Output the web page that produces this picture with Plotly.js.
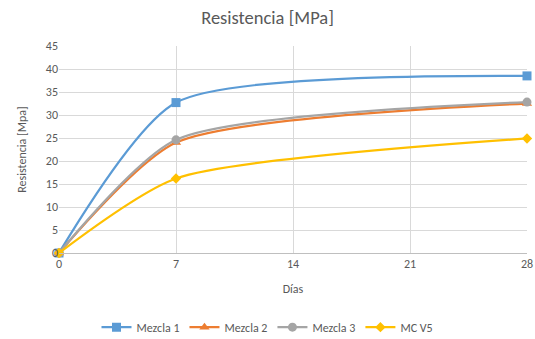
<!DOCTYPE html>
<html><head><meta charset="utf-8">
<script src="https://cdn.plot.ly/plotly-3.0.1.min.js"></script>
<style>html,body{margin:0;padding:0;background:#fff}#c{width:535px;height:339px}</style>
</head><body><div id="c"></div>
<script>
const dias = [0, 7, 28];
const mezcla1 = [0, 32.7, 38.5];
const mezcla2 = [0, 24.0, 32.5];
const mezcla3 = [0, 24.6, 32.8];
const mcv5 = [0, 16.2, 24.9];
const names = ["Mezcla 1", "Mezcla 2", "Mezcla 3", "MC V5"];
const xTicks = [0, 7, 14, 21, 28];
const yTicks = [0, 5, 10, 15, 20, 25, 30, 35, 40, 45];

const colors = ["#5b9bd5", "#ed7d31", "#a5a5a5", "#ffc000"];
const symbols = ["square", "triangle-up", "circle", "diamond"];
const sizes = [9, 9, 9, 8];
const series = [mezcla1, mezcla2, mezcla3, mcv5];

const traces = series.map((s, i) => ({
  x: dias, y: s, name: names[i], type: "scatter", mode: "lines+markers",
  line: {color: colors[i], width: 2.25, shape: "spline", smoothing: 0.65},
  marker: {color: colors[i], symbol: symbols[i], size: sizes[i]},
  cliponaxis: false
}));

const font = "Calibri, Carlito, 'Open Sans', sans-serif";
const layout = {
  width: 535, height: 339,
  margin: {l: 59, r: 8, t: 46, b: 86},
  paper_bgcolor: "#fff", plot_bgcolor: "#fff",
  font: {family: font, color: "#595959", size: 12},
  title: {text: "Resistencia [MPa]", x: 0.5, xanchor: "center", y: 0.968, yanchor: "top",
          font: {size: 18.5, color: "#595959", family: font}},
  xaxis: {
    range: [0, 28], tickvals: xTicks, ticktext: xTicks.map(String),
    showgrid: true, gridcolor: "#d9d9d9", gridwidth: 1, automargin: false,
    zeroline: false, showline: true, linecolor: "#bfbfbf", linewidth: 1,
    ticks: "", ticklen: 0,
    title: {text: "Días", font: {size: 12, color: "#595959"}, standoff: 14},
    tickfont: {size: 12, color: "#595959"}
  },
  yaxis: {
    range: [0, 45], tickvals: yTicks, ticktext: yTicks.map(String),
    showgrid: true, gridcolor: "#d9d9d9", gridwidth: 1, automargin: false,
    zeroline: false, showline: false, ticks: "",
    title: {text: "Resistencia [Mpa]", font: {size: 12, color: "#595959"}, standoff: 16},
    tickfont: {size: 12, color: "#595959"}
  },
  legend: {orientation: "h", x: 0.5, xanchor: "center", xref: "container",
           y: 0.035, yanchor: "middle", yref: "container",
           font: {size: 12, color: "#595959"}, itemwidth: 30, traceorder: "normal"},
  showlegend: true
};
Plotly.newPlot("c", traces, layout, {displayModeBar: false, staticPlot: true});
</script>
</body></html>
